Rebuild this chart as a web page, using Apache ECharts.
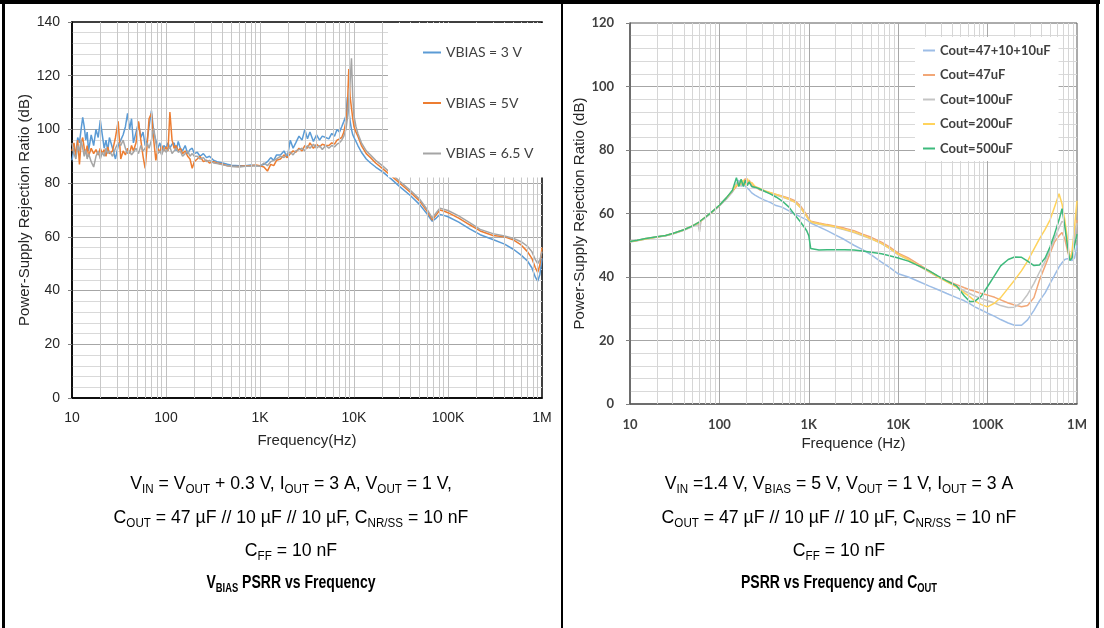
<!DOCTYPE html>
<html><head><meta charset="utf-8">
<script src="https://cdn.jsdelivr.net/npm/echarts@6/dist/echarts.min.js"></script>
<style>html,body{margin:0;padding:0;background:#fff;}#c{width:1104px;height:628px;}</style>
</head><body><div id="c"></div>
<script>
// ---------- Left chart: VBIAS PSRR vs Frequency ----------
const freqL = [10,10.5,11,11.5,12,12.5,13,13.5,14,14.5,15,16,17,18,19,20,21,22,23,24,25,27,29,31,33,35,37,39,41,43,45,48,51,54,57,60,63,66,70,74,78,82,86,90,95,100,105,110,116,122,128,135,142,150,160,170,180,190,200,
  215,230,250,270,290,320,350,400,450,500,600,700,800,900,1000,1100,1200,1300,1400,1500,
  1650,1800,1950,2100,2250,2400,2600,2800,3000,3200,3400,3700,4000,4300,4600,5000,5400,5800,6200,6600,7000,7400,7800,8200,8500,8800,9100,9400,9700,10000,
  10500,11000,12000,13500,15000,17000,20000,25000,30000,40000,50000,60000,68000,75000,82000,90000,100000,130000,170000,220000,300000,400000,500000,600000,700000,780000,850000,900000,950000,1000000];
const vbias3V = [88.5,93,91,97,95,100,104.5,101,96,99,92,98,94,100,97,103.5,98,93,96,92,97,93,89,94,96,98,101,106,100,104,95,99,102.5,97,99,94,96,101,107,99,96,93,95,92,94,93,95,93,94.5,95,92,95.5,93,92,94,91,92.5,93,91,
  91.5,90,91,89.5,90,88.5,88,87.5,87,86.7,86.5,86.5,86.8,86.5,86.5,87,88,89.5,88.5,90.5,
  90.5,92,89.5,96,93,95,97.5,96,100,96.5,99,95.5,98,96,97.5,97,96.5,98.5,97.5,100,99,101,103,105,112,107,103,100,98,97,
  95.5,94,91.5,89,87.5,86,84.3,81.5,79,75.3,72,68.5,65.8,67,68.3,68,67.5,65.5,63,60.8,59,57.3,55.3,53.2,51,48.5,45,43.5,46,52];
const vbias5V = [92,95,90,96,87,95,97,93,91,94,90,93,91,92.5,90.5,93,91,92.5,90,93.5,91,92,97,103,89,92,90.5,93,91,94,92,95,103,96,90,85.5,94,104,106,96,88.5,93,91.5,94,92,93.5,92,106.5,96,93,94,92,93,91,92,90,89,85.5,88,
  89,90,88,88.5,87.5,88,87.5,87,86.5,86.3,86.2,86.5,86.5,86.8,86.5,86,84.5,87,86.5,88.5,
  89,90.5,89.5,91,92,91.5,93,92,94,93,95,93,94.5,93.5,94.5,94,94,95,94.5,96,96.5,97,99,103,108,122.5,112,108,104,101,
  99,97.5,94,91,89.5,87.5,85.5,82.7,80.3,76.5,73.3,69.5,66.3,68.2,70,69.6,69,67,64.5,62.2,60.5,60,58.8,57,54.5,52,48.5,46.8,49.5,56];
const vbias65V = [95,91,89,94,92,96,93,90,92.5,89,91,88,86,90,92,89,91.5,90,93,91,92,90,93,95,94,96,93,91,92,90.5,91.5,93,91,94,92,93,95,93,96,100.5,95,91,92,90.5,93,91.5,92,93.5,91,92,93,91.5,92,90,91,92,90,91,90,
  90,89,89.5,88,88.5,87.5,87.3,86.8,86.5,86.2,86,86.3,86.3,86.5,86.3,87.5,86.5,88,88.5,89,
  90,89.5,91,91.5,90.5,92,92.5,93,92,94,93,94.5,93,94,92.5,94,93,94,93.5,94.5,95,96,97.5,100,104,111,118,126.5,112,105,
  101,98.5,95,92,90.5,88.5,86.5,83.5,81,77.2,74,70.2,67,69,70.7,70.3,69.8,67.8,65.3,62.8,61.2,60.3,59.4,58.2,56.5,54.5,51.5,50,51.5,54.5];
const namesL = ['VBIAS = 3 V','VBIAS = 5V','VBIAS = 6.5 V'];
const colorsL = ['#5b9bd5','#ed7d31','#a5a5a5'];

// ---------- Right chart: PSRR vs Frequency and COUT ----------
const freqR = [10,12,15,20,25,30,40,50,58,60,62,70,80,100,120,140,
  155,165,175,185,195,205,215,230,250,
  280,320,370,430,500,600,700,800,900,
  950,1000,1050,1100,
  1300,1600,2000,2500,3200,4000,5000,6500,8000,10000,
  13000,17000,22000,28000,35000,45000,55000,63000,72000,85000,
  100000,120000,140000,170000,200000,240000,280000,330000,380000,440000,
  500000,560000,630000,680000,730000,780000,830000,880000,940000,1000000];
const cout47_10_10 = [51,51.4,52,52.5,53,53.5,54.7,55.9,57,57.3,57.6,58.7,60,62.4,64.6,66.8,
  69,70.5,68.5,69.8,68.5,69,67.5,66.5,65.8,
  65,64.2,63.5,62.5,62,60.8,59.8,59,58.3,
  58,57.6,57,56.6,
  55.8,54.6,53.2,51.8,50,48.6,47,44.7,43,41,
  40,38.6,37.2,36,34.8,33.5,32.5,31.6,30.6,29.6,
  28.6,27.6,26.6,25.5,24.8,24.8,26.5,29.5,32.5,35,
  38,40.5,43.2,44.5,45.5,45.8,45.5,45.2,46,50];
const cout47 = [51.2,51.5,52.1,52.6,53.1,53.7,54.9,56.1,57.1,55,57.7,58.9,60.1,62.5,64.8,67,
  68.5,69.5,69,70,71,69.5,70.5,69,68.5,
  67.5,67,66.5,66,65.5,64.8,64,62.5,60.5,
  59.5,58.3,57.6,57.3,
  57,56.5,56,55.4,54.6,53.5,52.5,51,49.5,47.5,
  46,44,42,40.2,38.8,37.6,36.6,36,35.5,34.8,
  34.3,33.6,32.8,31.8,31.2,30.6,31,33.5,39,43.5,
  47.5,51,53,54,52,48.5,45.5,46,52,58];
const cout100 = [51.3,51.6,52,52.7,53,53.6,54.8,56,56.5,54.2,57.6,58.8,60,62.6,64.9,67.1,
  69.5,70,68.8,69.5,70,69,69.8,68.5,68,
  67.8,67,66.4,65.8,65.2,64.5,63.6,62,60,
  59,58,57.3,57,
  56.6,56.1,55.6,54.9,54,53,52,50.5,49,47,
  45.5,43.5,41.6,40,38.6,37,35.6,34.8,34,33.2,
  32.5,31.8,31,30.4,30.5,32,34.5,38,41.5,45,
  48.5,52,55.5,57.5,57,51,45.5,47,53,57];
const cout200 = [51.1,51.5,52,52.6,53.1,53.6,54.8,56.1,57,57.4,57.7,58.9,60.1,62.6,64.9,67.2,
  69,68.8,69.5,70.5,69,71,69.5,69.8,68.5,
  68,67.2,66.6,66,65.4,64.5,63.6,62,60,
  59,58,57.5,57.2,
  56.8,56.3,55.8,55,54.2,53.2,52,50.6,49,47.2,
  45.5,43.5,41.8,40,38.5,36.8,35,33.8,32.5,31.3,
  30.6,31.8,33.5,36.5,39,42,45,48.8,52,55,
  58,62,66.2,63,58,52,45.5,48,56,64];
const cout500 = [51.2,51.6,52.1,52.7,53.1,53.7,54.9,56.1,57.1,57.4,57.8,58.9,60.2,62.6,65,67.3,
  71.3,68.5,70.8,68.5,70.5,68.8,70,68.5,68.3,
  67.8,67,66.2,65.2,64,62,59.5,57.5,55.5,
  54.5,53,49,48.5,
  48.5,48.6,48.6,48.6,48.5,48.2,47.8,47.3,46.7,46,
  45,43.5,42,40.3,38.8,37.2,34,32.3,32.4,34,
  37,40.5,43.5,45.5,46.3,46.2,45,43.6,43.8,46,
  49.5,53.5,58,61.5,56,50,45.2,46,50,53.5];
const namesR = ['Cout=47+10+10uF','Cout=47uF','Cout=100uF','Cout=200uF','Cout=500uF'];
const colorsR = ['#9dbde6','#f2a777','#c4c4c4','#ffd35c','#3dba7c'];

// ---------- Axis ticks ----------
const xTickText = {10:'10',100:'100',1000:'1K',10000:'10K',100000:'100K',1000000:'1M'};
const minorFreqTicks = [20,30,40,50,60,70,80,90,200,300,400,500,600,700,800,900,2000,3000,4000,5000,6000,7000,8000,9000,
  20000,30000,40000,50000,60000,70000,80000,90000,200000,300000,400000,500000,600000,700000,800000,900000];

const pair = (f, v) => f.map((x, i) => [x, v[i]]);

const chart = echarts.init(document.getElementById('c'), null, {renderer: 'canvas'});

function xAxisCfg(gi, name, nameGap, labelFont, gridColor, axisColor, labelMargin) {
  return {
    type: 'log', logBase: 10, min: 10, max: 1000000, gridIndex: gi,
    name: name, nameLocation: 'middle', nameGap: nameGap,
    nameTextStyle: {fontFamily: 'Liberation Sans', fontSize: 15, color: '#262626'},
    axisLine: {show: true, lineStyle: {color: axisColor, width: 1.5}},
    axisTick: {show: false},
    axisLabel: Object.assign({margin: labelMargin, formatter: v => xTickText[Math.round(v)] || ''}, labelFont),
    splitLine: {show: true, showMinLine: false, showMaxLine: false, lineStyle: {color: gridColor, width: 1}}
  };
}
function yAxisCfg(gi, max, name, nameGap, labelFont, majorColor, minorColor, axisColor, labelMargin) {
  return {
    type: 'value', gridIndex: gi, min: 0, max: max, interval: 20,
    name: name, nameLocation: 'middle', nameGap: nameGap,
    nameTextStyle: {fontFamily: 'Liberation Sans', fontSize: 15, color: '#262626'},
    axisLine: {show: true, lineStyle: {color: axisColor, width: 1.5}},
    axisTick: {show: true, length: 4, lineStyle: {color: '#808080'}},
    axisLabel: Object.assign({margin: labelMargin}, labelFont),
    splitLine: {show: true, showMinLine: false, showMaxLine: false, lineStyle: {color: majorColor, width: 1}},
    minorTick: {show: false, splitNumber: 5},
    minorSplitLine: {show: true, lineStyle: {color: minorColor, width: 1}}
  };
}

const fontL = {fontFamily: 'Liberation Sans', fontSize: 14, color: '#262626'};
const fontR = {fontFamily: 'Lato', fontSize: 13, fontWeight: 'bold', color: '#404040'};

const series = [];
// minor vertical grid lines at 2..9 x each decade (log axis)
[0, 1].forEach(gi => {
  series.push({
    type: 'line', xAxisIndex: gi, yAxisIndex: gi, data: [], z: 1, silent: true,
    markLine: {
      silent: true, symbol: ['none', 'none'], animation: false,
      label: {show: false},
      lineStyle: {color: gi === 0 ? '#c8c8c8' : '#d6d6d6', width: 1, type: 'solid'},
      emphasis: {disabled: true},
      data: minorFreqTicks.map(f => ({xAxis: f}))
    }
  });
});
[vbias3V, vbias5V, vbias65V].forEach((v, i) => {
  series.push({name: namesL[i], type: 'line', xAxisIndex: 0, yAxisIndex: 0, data: pair(freqL, v),
    symbol: 'none', z: 3, lineStyle: {width: 1.5, color: colorsL[i]}, itemStyle: {color: colorsL[i]}});
});
[cout47_10_10, cout47, cout100, cout200, cout500].forEach((v, i) => {
  series.push({name: namesR[i], type: 'line', xAxisIndex: 1, yAxisIndex: 1, data: pair(freqR, v),
    symbol: 'none', z: 3, lineStyle: {width: 1.5, color: colorsR[i]}, itemStyle: {color: colorsR[i]}});
});

// caption rich text styles
const rich = {
  n: {fontFamily: 'Liberation Sans', fontSize: 19, lineHeight: 24, verticalAlign: 'middle', color: '#000'},
  s: {fontFamily: 'Liberation Sans', fontSize: 12.5, lineHeight: 15, verticalAlign: 'bottom', color: '#000'}
};
const richB = {
  b: {fontFamily: 'Liberation Sans', fontSize: 18, fontWeight: 'bold', lineHeight: 24, verticalAlign: 'middle', color: '#000'},
  bs: {fontFamily: 'Liberation Sans', fontSize: 12, fontWeight: 'bold', lineHeight: 15, verticalAlign: 'bottom', color: '#000'}
};
function cap(x, y, text, r, sx) {
  return {type: 'text', x: x, y: y, scaleX: sx, z: 10,
    style: {text: text, rich: r, align: 'center', verticalAlign: 'middle'}};
}
const captionsL = [
  '{n|V}{s|IN}{n| = V}{s|OUT}{n| + 0.3 V, I}{s|OUT}{n| = 3 A, V}{s|OUT}{n| = 1 V,}',
  '{n|C}{s|OUT}{n| = 47 µF // 10 µF // 10 µF, C}{s|NR/SS}{n| = 10 nF}',
  '{n|C}{s|FF}{n| = 10 nF}',
  '{b|V}{bs|BIAS}{b| PSRR vs Frequency}'
];
const captionsR = [
  '{n|V}{s|IN}{n| =1.4 V, V}{s|BIAS}{n| = 5 V, V}{s|OUT}{n| = 1 V, I}{s|OUT}{n| = 3 A}',
  '{n|C}{s|OUT}{n| = 47 µF // 10 µF // 10 µF, C}{s|NR/SS}{n| = 10 nF}',
  '{n|C}{s|FF}{n| = 10 nF}',
  '{b|PSRR vs Frequency and C}{bs|OUT}'
];
const capY = [484, 518, 551, 583];
const graphics = [
  {type: 'rect', shape: {x: 0, y: 0, width: 1100, height: 4}, style: {fill: '#000'}, z: 20},
  {type: 'rect', shape: {x: 2, y: 0, width: 3, height: 628}, style: {fill: '#000'}, z: 20},
  {type: 'rect', shape: {x: 561, y: 0, width: 2, height: 628}, style: {fill: '#000'}, z: 20},
  {type: 'rect', shape: {x: 1096, y: 0, width: 3, height: 628}, style: {fill: '#000'}, z: 20}
];
captionsL.forEach((t, i) => graphics.push(cap(291, capY[i], t, i === 3 ? richB : rich, i === 3 ? 0.78 : 0.93)));
captionsR.forEach((t, i) => graphics.push(cap(839, capY[i], t, i === 3 ? richB : rich, i === 3 ? 0.78 : 0.93)));

chart.setOption({
  animation: false,
  backgroundColor: '#fff',
  grid: [
    {left: 72, top: 22, width: 470, height: 376, show: true, borderColor: '#000', borderWidth: 1.5, backgroundColor: 'transparent'},
    {left: 630, top: 23, width: 447, height: 381, show: true, borderColor: '#595959', borderWidth: 1, backgroundColor: 'transparent'}
  ],
  xAxis: [
    xAxisCfg(0, 'Frequency(Hz)', 35, fontL, '#c0c0c0', '#000', 13),
    xAxisCfg(1, 'Frequence (Hz)', 32, fontR, '#a8a8a8', '#595959', 14)
  ],
  yAxis: [
    yAxisCfg(0, 140, 'Power-Supply Rejection Ratio (dB)', 37, fontL, '#a6a6a6', '#d9d9d9', '#000', 12),
    yAxisCfg(1, 120, 'Power-Supply Rejection Ratio (dB)', 35, fontR, '#a6a6a6', '#d9d9d9', '#595959', 16)
  ],
  legend: [
    {data: namesL, orient: 'vertical', left: 388, top: 23, icon: 'rect', itemGap: 36.5, itemWidth: 18, itemHeight: 2,
      padding: [22.5, 10, 17, 35], backgroundColor: '#fff', selectedMode: false, z: 6,
      textStyle: {fontFamily: 'Lato', fontSize: 14, color: '#404040'}},
    {data: namesR, orient: 'vertical', left: 915, top: 37, icon: 'rect', itemGap: 11.5, itemWidth: 12, itemHeight: 2,
      padding: [7, 8, 6, 8], backgroundColor: '#fff', selectedMode: false, z: 6,
      textStyle: {fontFamily: 'Lato', fontSize: 13, fontWeight: 'bold', color: '#404040'}}
  ],
  series: series,
  graphic: graphics
});
</script></body></html>
